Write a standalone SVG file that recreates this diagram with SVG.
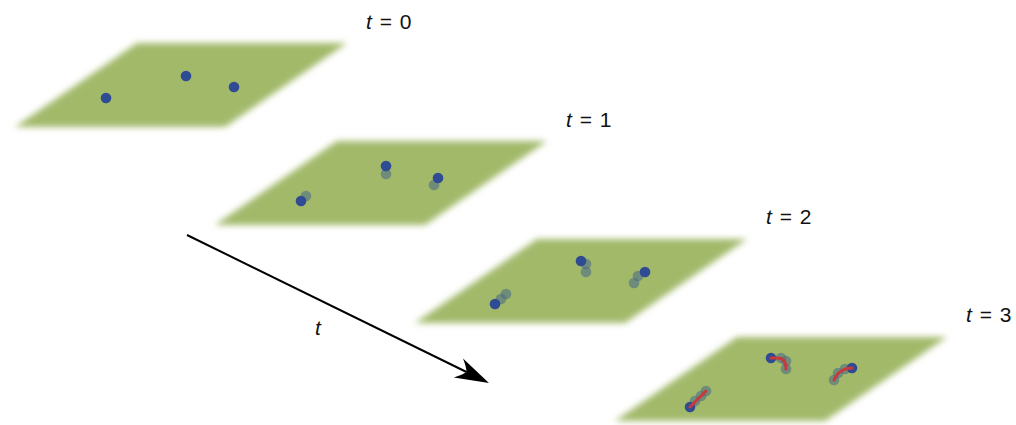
<svg xmlns="http://www.w3.org/2000/svg" width="1016" height="425" viewBox="0 0 1016 425">
<style>
.plane{fill:#a2b96a;filter:url(#blur)}
.cur{fill:#2f4b94}
.old{fill:#4d6c86;opacity:0.6}
.trail{fill:none;stroke:#c8393c;stroke-width:3;stroke-linecap:round;stroke-linejoin:round}
.lbl{font-family:"Liberation Sans",Arial,sans-serif;font-size:21px;fill:#111;word-spacing:2px}
.it{font-style:italic}
.axis{fill:none;stroke:#000;stroke-width:2}
</style>
<defs>
<filter id="blur" x="-10%" y="-20%" width="120%" height="140%">
<feGaussianBlur stdDeviation="3"/>
</filter>
<marker id="head" markerUnits="userSpaceOnUse" markerWidth="40" markerHeight="26" viewBox="-12 -13 40 26" refX="0" refY="0" orient="auto">
<path d="M25,0 L-9,-10.5 Q-2,-4 0,0 Q-2,4 -9,10.5 Z" fill="#000"/>
</marker>
</defs>

<g id="plane-t0">
<polygon class="plane" points="137,43 347,43 225,127 15,127"/>
<circle class="cur" cx="106" cy="98" r="5.3"/>
<circle class="cur" cx="186" cy="76" r="5.3"/>
<circle class="cur" cx="234" cy="87" r="5.3"/>
<text class="lbl" x="366" y="29"><tspan class="it">t</tspan> = 0</text>
</g>

<g id="plane-t1">
<polygon class="plane" points="337,141 547,141 425,225 215,225"/>
<circle class="old" cx="306" cy="196" r="5.3"/>
<circle class="old" cx="386" cy="174" r="5.3"/>
<circle class="old" cx="434" cy="185" r="5.3"/>
<circle class="cur" cx="301" cy="201" r="5.3"/>
<circle class="cur" cx="386" cy="166" r="5.3"/>
<circle class="cur" cx="438" cy="178" r="5.3"/>
<text class="lbl" x="566" y="127"><tspan class="it">t</tspan> = 1</text>
</g>

<g id="plane-t2">
<polygon class="plane" points="537,239 747,239 625,323 415,323"/>
<circle class="old" cx="506" cy="294" r="5.3"/>
<circle class="old" cx="586" cy="272" r="5.3"/>
<circle class="old" cx="634" cy="283" r="5.3"/>
<circle class="old" cx="501" cy="299" r="5.3"/>
<circle class="old" cx="586" cy="264" r="5.3"/>
<circle class="old" cx="638" cy="276" r="5.3"/>
<circle class="cur" cx="495" cy="304" r="5.3"/>
<circle class="cur" cx="581" cy="261" r="5.3"/>
<circle class="cur" cx="645" cy="272" r="5.3"/>
<text class="lbl" x="766" y="224"><tspan class="it">t</tspan> = 2</text>
</g>

<g id="plane-t3">
<polygon class="plane" points="737,337 947,337 825,421 615,421"/>
<circle class="old" cx="706" cy="391" r="5.3"/>
<circle class="old" cx="786" cy="369" r="5.3"/>
<circle class="old" cx="834" cy="380" r="5.3"/>
<circle class="old" cx="701" cy="396" r="5.3"/>
<circle class="old" cx="786" cy="361" r="5.3"/>
<circle class="old" cx="838" cy="373" r="5.3"/>
<circle class="old" cx="695" cy="401" r="5.3"/>
<circle class="old" cx="781" cy="358" r="5.3"/>
<circle class="old" cx="845" cy="369" r="5.3"/>
<circle class="cur" cx="690" cy="407" r="5.3"/>
<circle class="cur" cx="771" cy="358" r="5.3"/>
<circle class="cur" cx="852" cy="368" r="5.3"/>
<path class="trail" d="M706,391 L690,407"/>
<path class="trail" d="M786,369 C786,365 785,360 781,358.5 C778,357.5 774,358 771,358"/>
<path class="trail" d="M834,380 C836,376 838,373 840,372 C844,369 848,368 852,368"/>
<text class="lbl" x="966" y="322"><tspan class="it">t</tspan> = 3</text>
</g>

<g id="connectors">
<path class="axis" d="M187,235 L466.5,372" marker-end="url(#head)"/>
<text class="lbl it" x="315" y="335">t</text>
</g>
</svg>
